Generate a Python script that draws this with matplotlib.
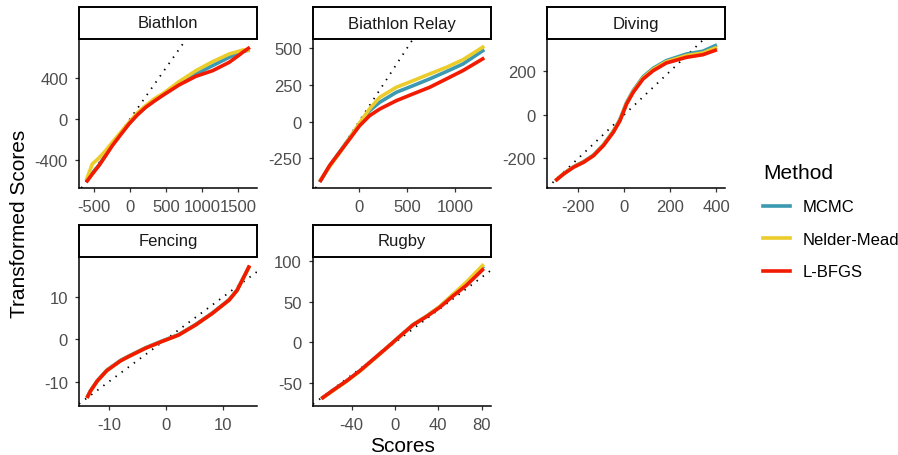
import matplotlib
matplotlib.use("Agg")
import matplotlib.pyplot as plt
from matplotlib.lines import Line2D

plt.rcParams['font.family'] = ['Liberation Sans', 'DejaVu Sans']
plt.rcParams['axes.unicode_minus'] = False

methods = ["MCMC", "Nelder-Mead", "L-BFGS"]
colors = {"MCMC": "#3B9AB2", "Nelder-Mead": "#EBCC2A", "L-BFGS": "#F21A00"}

# Biathlon
biath_x = [-607, -522, -430, -337, -245, -129, -14, 101, 218, 332, 449, 680, 912, 1144, 1375, 1514, 1560, 1660]
biath_mcmc = [-612, -530, -450, -352, -255, -148, -45, 44, 118, 178, 232, 340, 439, 520, 602, 640, 657, 675]
biath_nm = [-600, -439, -380, -309, -228, -130, -33, 59, 130, 195, 244, 364, 471, 559, 634, 662, 673, 667]
biath_lbfgs = [-618, -537, -455, -358, -260, -153, -49, 39, 114, 172, 228, 332, 416, 471, 553, 624, 650, 699]

# Biathlon Relay
relay_x = [-409, -305, -201, -97, 7, 111, 216, 389, 563, 736, 910, 1083, 1305]
relay_mcmc = [-411, -300, -205, -110, -15, 75, 132, 200, 245, 291, 341, 393, 490]
relay_nm = [-405, -305, -212, -112, -8, 88, 166, 234, 279, 325, 370, 422, 514]
relay_lbfgs = [-411, -298, -208, -118, -27, 41, 86, 143, 189, 234, 291, 348, 434]

# Diving
diving_x = [-300, -264, -221, -177, -134, -91, -48, -19, 10, 39, 82, 126, 183, 270, 342, 403]
diving_mcmc = [-303, -270, -239, -215, -185, -138, -76, -22, 56, 111, 174, 213, 248, 278, 291, 320]
diving_nm = [-303, -271, -240, -217, -187, -140, -78, -25, 52, 107, 169, 208, 243, 271, 283, 309]
diving_lbfgs = [-303, -272, -241, -218, -188, -142, -81, -28, 49, 103, 164, 202, 237, 263, 275, 298]

# Fencing
fencing_x = [-13.9, -13.3, -12.1, -10.4, -8.0, -6.6, -3.6, -0.7, 2.2, 5.2, 8.1, 11.1, 12.5, 13.7, 14.7]
fencing_mcmc = [-13.8, -12.2, -9.8, -7.3, -5.0, -4.0, -2.0, -0.4, 1.1, 3.5, 6.2, 9.4, 11.7, 14.8, 17.4]
fencing_nm = [-13.9, -12.3, -9.9, -7.4, -5.1, -4.1, -2.1, -0.5, 1.0, 3.4, 6.1, 9.3, 11.6, 14.8, 17.4]
fencing_lbfgs = [-13.9, -12.3, -9.9, -7.4, -5.1, -4.1, -2.1, -0.5, 1.0, 3.4, 6.1, 9.3, 11.6, 14.8, 17.5]

# Rugby
rugby_x = [-68, -57, -45, -32.6, -20.3, -8, 4.3, 16.6, 29, 41.2, 53.5, 65.8, 81.9]
rugby_mcmc = [-69, -58.5, -47.5, -35, -21, -7, 7.5, 21.8, 32.2, 43.8, 58.5, 72, 93.5]
rugby_nm = [-69, -59, -48, -35.5, -21.5, -7.2, 7.3, 21.6, 32.2, 44, 59, 74, 96]
rugby_lbfgs = [-69, -58.5, -47.5, -35, -21, -7, 7.3, 21.5, 31.7, 43, 57, 70, 90.6]

panels = [
    ("Biathlon", biath_x, [biath_mcmc, biath_nm, biath_lbfgs],
     (-706, 1759), (-673, 780), [-500, 0, 500, 1000, 1500], [-400, 0, 400]),
    ("Biathlon Relay", relay_x, [relay_mcmc, relay_nm, relay_lbfgs],
     (-479, 1375), (-452, 563), [0, 500, 1000], [-250, 0, 250, 500]),
    ("Diving", diving_x, [diving_mcmc, diving_nm, diving_lbfgs],
     (-336, 438), (-336, 347), [-200, 0, 200, 400], [-200, 0, 200]),
    ("Fencing", fencing_x, [fencing_mcmc, fencing_nm, fencing_lbfgs],
     (-15.3, 16.0), (-15.8, 19.5), [-10, 0, 10], [-10, 0, 10]),
    ("Rugby", rugby_x, [rugby_mcmc, rugby_nm, rugby_lbfgs],
     (-75.7, 88.6), (-78, 104.9), [-40, 0, 40, 80], [-50, 0, 50, 100]),
]

W, H = 898, 456
fig = plt.figure(figsize=(W / 100, H / 100), dpi=100)


def rect(l, t, w, h):
    return [l / W, 1 - (t + h) / H, w / W, h / H]


lefts = [79, 313, 547]
tops = [40, 258]
pw, ph, sh = 178, 149, 32

for i, (name, xs, ys, xlim, ylim, xt, yt) in enumerate(panels):
    l = lefts[i % 3]
    t = tops[i // 3]
    ax = fig.add_axes(rect(l, t, pw, ph))
    ax.axline((0, 0), slope=1, color="black", lw=1.3, linestyle=(0, (0.8, 3.4)))
    for m, y in zip(methods, ys):
        ax.plot(xs, y, color=colors[m], lw=2.6, solid_capstyle="butt",
                solid_joinstyle="round")
    ax.set_xlim(*xlim)
    ax.set_ylim(*ylim)
    ax.set_xticks(xt)
    ax.set_yticks(yt)
    for s in ["top", "right"]:
        ax.spines[s].set_visible(False)
    for s in ["left", "bottom"]:
        ax.spines[s].set_linewidth(1.1)
    ax.tick_params(length=3, width=0.9, color="#333333", labelcolor="#4D4D4D",
                   labelsize=12, pad=5)

    sax = fig.add_axes(rect(l, t - sh, pw, sh))
    sax.set_xticks([])
    sax.set_yticks([])
    for s in sax.spines.values():
        s.set_linewidth(1.4)
    sax.text(0.5, 0.5, name, ha="center", va="center", fontsize=12, color="#1A1A1A",
             transform=sax.transAxes)

fig.text(20 / W, 1 - 224 / H, "Transformed Scores", rotation=90, ha="center", va="center",
         fontsize=15)
fig.text(402 / W, 1 - 447 / H, "Scores", ha="center", va="center", fontsize=15)

handles = [Line2D([], [], color=colors[m], lw=2.6) for m in methods]
fig.legend(handles, methods, title="Method", loc="upper left",
           bbox_to_anchor=(748 / W, 1 - 149 / H), frameon=False, fontsize=12,
           title_fontsize=15, handlelength=1.6, handletextpad=0.8,
           labelspacing=1.05, alignment="left")

fig.savefig("out.png", dpi=100)
